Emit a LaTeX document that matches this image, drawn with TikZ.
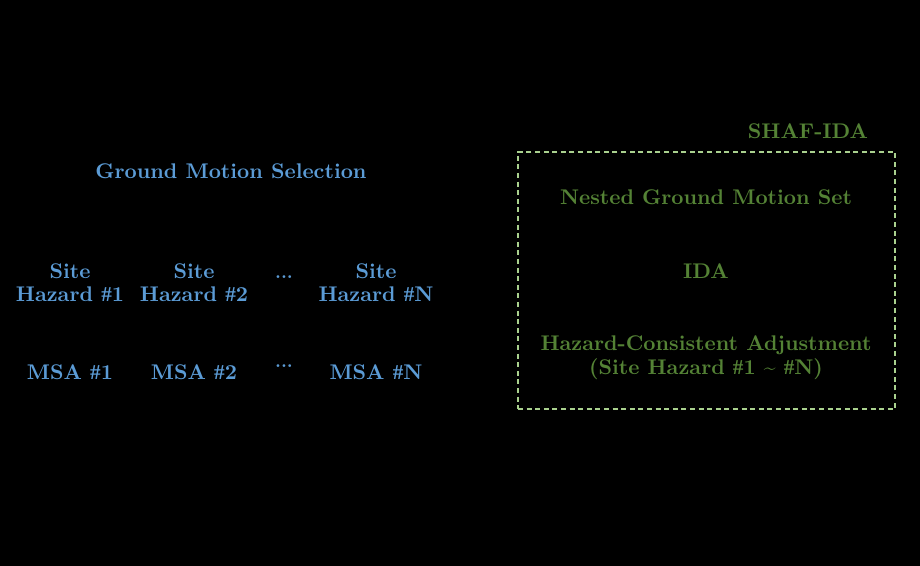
\documentclass[tikz,border=0pt]{standalone}
\usepackage{fontspec}
\newfontfamily\hashfont{Liberation Serif}
\newcommand{\hs}{{\hashfont\bfseries\#}}
\usepackage{xcolor}
\definecolor{gmblue}{HTML}{5B9BD5}
\definecolor{idagreen}{HTML}{548235}
\definecolor{boxgreen}{HTML}{A9D18E}
\begin{document}
\begin{tikzpicture}[x=0.5pt,y=-0.5pt,
  bluetxt/.style={text=gmblue,font=\fontsize{10.6}{11.4}\selectfont\bfseries,align=center,inner sep=0pt},
  greentxt/.style={text=idagreen,font=\fontsize{10.6}{12}\selectfont\bfseries,align=center,inner sep=0pt},
  dotsstyle/.style={text=gmblue,font=\fontsize{9}{10}\selectfont\bfseries,inner sep=0pt},
  dashbox/.style={draw=boxgreen,line width=0.9pt,dash pattern=on 2.5pt off 1.8pt}]
\fill[black] (0,0) rectangle (920,566);
\useasboundingbox (0,0) rectangle (920,566);
% left panel
\node[bluetxt] (gms) at (231,171) {Ground Motion Selection};
\node[bluetxt] (sh1) at (70,283) {Site\\Hazard \hs1};
\node[bluetxt] (sh2) at (194,283) {Site\\Hazard \hs2};
\node[dotsstyle] (shd) at (284,277) {...};
\node[bluetxt] (shn) at (376,283) {Site\\Hazard \hs N};
\node[bluetxt] (msa1) at (70,372) {MSA \hs1};
\node[bluetxt] (msa2) at (194,372) {MSA \hs2};
\node[dotsstyle] (msad) at (284,366) {...};
\node[bluetxt] (msan) at (376,372) {MSA \hs N};
% right panel
\node[greentxt] (shaf) at (808,131) {SHAF-IDA};
\node[dashbox,minimum width=188.5pt,minimum height=128.5pt,inner sep=0pt] (frame) at (706.5,280.5) {};
\node[greentxt] (ngms) at (706,197) {Nested Ground Motion Set};
\node[greentxt] (ida) at (706,271) {IDA};
\node[greentxt] (hca) at (706,358) {Hazard-Consistent Adjustment\\(Site Hazard \hs1 \textasciitilde{} \hs N)};
\end{tikzpicture}
\end{document}
